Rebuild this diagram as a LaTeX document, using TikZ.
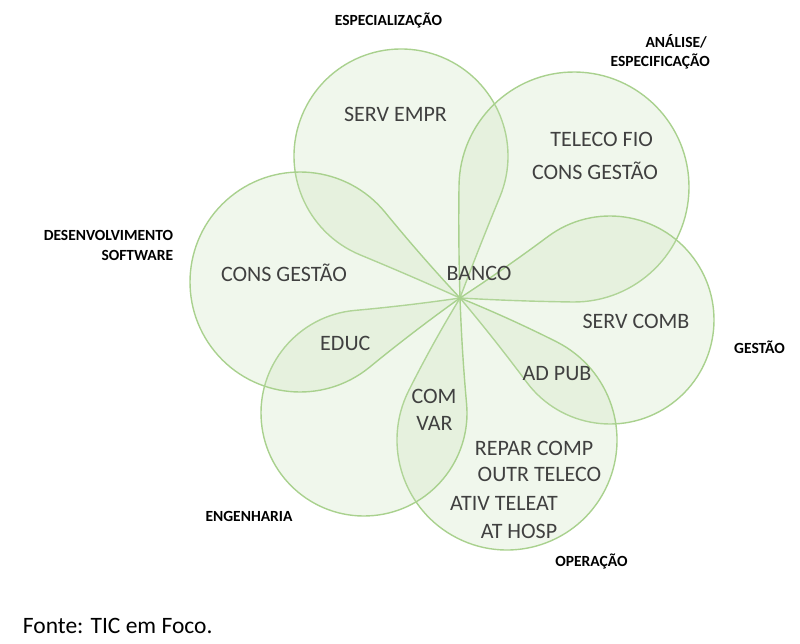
\documentclass[tikz,border=0pt]{standalone}
\usepackage{fontspec}
\setmainfont{Carlito}
\usetikzlibrary{calc}
\definecolor{petalfill}{HTML}{C5E0B4}
\definecolor{petalline}{HTML}{A9D18E}
\definecolor{txtgray}{HTML}{404040}
\tikzset{
  petal/.style={draw=petalline, line width=1.4pt, fill=petalfill, fill opacity=0.25, line join=round},
  pettext/.style={text=txtgray, font=\fontsize{22}{24}\selectfont, inner sep=0pt, anchor=base},
  cattext/.style={text=black, font=\fontsize{15.5}{17}\bfseries\selectfont, inner sep=0pt},
}
% teardrop petal: circle centre (#1,#2) in pixel coordinates, radius #3, point at (center)
\newcommand\tdpetal[3]{%
  \pgfmathsetmacro\tdCx{#1}%
  \pgfmathsetmacro\tdCy{-#2}%
  \pgfmathsetmacro\tdDx{(460-\tdCx)/100}%
  \pgfmathsetmacro\tdDy{(-298-\tdCy)/100}%
  \pgfmathsetmacro\tdPhi{atan2(\tdDy,\tdDx)}%
  \pgfmathsetmacro\tdD{100*sqrt(\tdDx*\tdDx+\tdDy*\tdDy)}%
  \pgfmathsetmacro\tdA{\tdD/(#3*1.41421356)}%
  \pgfmathsetmacro\tdK{\tdA*#3/3}%
  \pgfmathsetmacro\tdM{2*(1-\tdA)*#3/3}%
  \pgfmathsetmacro\tdE{\tdPhi-45}%
  \pgfmathsetmacro\tdF{\tdPhi+45}%
  \pgfmathsetmacro\tdG{\tdPhi-315}%
  \path[petal] ($(\tdCx,\tdCy)+(\tdF:#3)$)
    .. controls +(\tdE:\tdK) and ($(center)+(\tdF:\tdM)+(\tdE:-\tdK)$) .. (center)
    .. controls ($(center)+(\tdE:\tdM)+(\tdF:-\tdK)$) and ($(\tdCx,\tdCy)+(\tdE:#3)+(\tdF:\tdK)$) .. ($(\tdCx,\tdCy)+(\tdE:#3)$)
    arc[start angle=\tdE, end angle=\tdG, radius=#3pt] -- cycle;
}
\begin{document}
\begin{tikzpicture}[x=1pt,y=1pt]
\useasboundingbox (0,0) rectangle (800,-644);
\coordinate (center) at (460,-298);
% petals
\tdpetal{401}{156}{107}
\tdpetal{574}{187}{115}
\tdpetal{610}{320}{104}
\tdpetal{507}{440}{110}
\tdpetal{364}{413}{103}
\tdpetal{300}{282}{110}
% petal texts
\node[pettext] (t1) at (395.5,-121.7) {SERV EMPR};
\node[pettext] (t2a) at (601.7,-146.7) {TELECO FIO};
\node[pettext] (t2b) at (595,-179.3) {CONS GESTÃO};
\node[pettext] (t6) at (284,-281.7) {CONS GESTÃO};
\node[pettext] (t0) at (479,-280.7) {BANCO};
\node[pettext] (t3) at (636,-328.3) {SERV COMB};
\node[pettext] (t56) at (345.3,-350.7) {EDUC};
\node[pettext] (t34) at (557,-380.7) {AD PUB};
\node[pettext] (t45a) at (434,-403.3) {COM};
\node[pettext] (t45b) at (434.5,-430.7) {VAR};
\node[pettext] (t4a) at (534,-455) {REPAR COMP};
\node[pettext] (t4b) at (539.5,-481.7) {OUTR TELECO};
\node[pettext] (t4c) at (504,-510.7) {ATIV TELEAT};
\node[pettext] (t4d) at (519,-538.3) {AT HOSP};
% category labels
\node[cattext, anchor=base] (c1) at (388.5,-26) {ESPECIALIZAÇÃO};
\node[cattext, anchor=base east] (c2a) at (707,-48) {ANÁLISE/};
\node[cattext, anchor=base east] (c2b) at (710,-66.7) {ESPECIFICAÇÃO};
\node[cattext, anchor=base west] (c3) at (734,-353) {GESTÃO};
\node[cattext, anchor=base] (c4) at (591.5,-566) {OPERAÇÃO};
\node[cattext, anchor=base] (c5) at (249,-521.7) {ENGENHARIA};
\node[cattext, anchor=base east] (c6a) at (173.3,-240.7) {DESENVOLVIMENTO};
\node[cattext, anchor=base east] (c6b) at (173.3,-260.7) {SOFTWARE};
% source
\node[inner sep=0pt, anchor=base west, font=\fontsize{23.5}{26}\selectfont] (src) at (22.7,-633.3) {Fonte: TIC em Foco.};
\end{tikzpicture}
\end{document}
